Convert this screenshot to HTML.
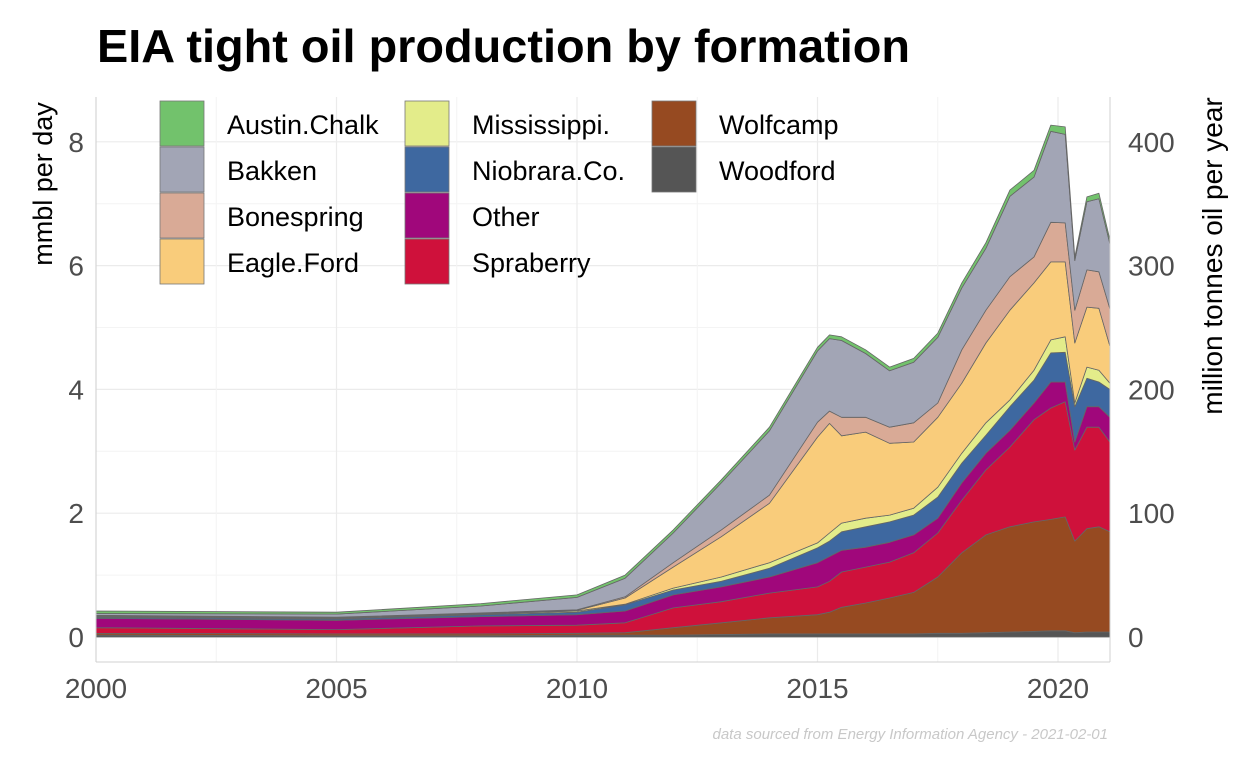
<!DOCTYPE html>
<html><head><meta charset="utf-8"><style>
html,body{margin:0;padding:0;background:#fff;}
svg{display:block;font-family:"Liberation Sans",Arial,sans-serif;}
</style></head><body>
<svg id="chart" width="1248" height="768" viewBox="0 0 1248 768">
<text x="97" y="62" font-size="46" font-weight="bold" fill="#000" textLength="813" lengthAdjust="spacingAndGlyphs">EIA tight oil production by formation</text>
<g id="grid"></g>
<g id="areas"></g>
<g id="axes"></g>
<g id="legend"></g>
<text transform="translate(52,184) rotate(-90)" text-anchor="middle" font-size="27" fill="#000">mmbl per day</text>
<text transform="translate(1222,256) rotate(-90)" text-anchor="middle" font-size="28" fill="#000">million tonnes oil per year</text>
<text x="1108" y="739" text-anchor="end" font-size="15" font-style="italic" fill="#c8c8c8">data sourced from Energy Information Agency - 2021-02-01</text>
</svg>
<script>
const times = [2000,2005,2008,2010,2011,2012,2013,2014,2015,2015.25,2015.5,2016,2016.5,2017,2017.5,2018,2018.5,2019,2019.5,2019.85,2020.15,2020.35,2020.6,2020.85,2021.08];
const seriesNames = ["Woodford","Wolfcamp","Spraberry","Other","Niobrara.Co.","Mississippi.","Eagle.Ford","Bonespring","Bakken","Austin.Chalk"];
const woodford   = [.03,.02,.02,.03,.03,.03,.04,.05,.05,.05,.05,.05,.05,.05,.06,.06,.07,.08,.09,.10,.10,.07,.08,.08,.08];
const wolfcamp   = [.03,.03,.03,.03,.04,.12,.19,.26,.31,.35,.43,.50,.58,.67,.91,1.30,1.58,1.70,1.77,1.80,1.84,1.48,1.67,1.70,1.62];
const spraberry  = [.09,.07,.13,.13,.16,.32,.34,.40,.45,.50,.57,.58,.58,.64,.71,.85,1.05,1.29,1.65,1.80,1.86,1.47,1.64,1.61,1.45];
const other      = [.15,.15,.15,.17,.19,.21,.24,.26,.39,.40,.35,.32,.32,.29,.24,.28,.27,.27,.27,.42,.32,.13,.33,.33,.40];
const niobrara   = [.02,.02,.03,.04,.10,.08,.09,.14,.24,.25,.30,.33,.33,.32,.34,.32,.29,.38,.37,.47,.48,.57,.46,.40,.45];
const mississippi= [.01,.01,.01,.02,.01,.03,.07,.09,.08,.13,.14,.14,.11,.11,.16,.16,.20,.11,.16,.21,.25,.06,.18,.19,.10];
const eagleFord  = [.01,.01,.01,.01,.10,.34,.65,.96,1.71,1.77,1.41,1.39,1.16,1.07,1.13,1.13,1.29,1.45,1.41,1.26,1.21,.97,.97,1.00,.60];
const bonespring = [.01,.01,.01,.01,.02,.07,.11,.13,.24,.20,.30,.24,.26,.31,.23,.54,.53,.54,.42,.64,.63,.53,.60,.59,.60];
const bakken     = [.03,.05,.11,.20,.30,.48,.76,1.04,1.15,1.17,1.24,1.03,.91,.98,1.06,1.00,1.00,1.30,1.29,1.47,1.43,.80,1.10,1.18,1.05];
const austin     = [.04,.03,.04,.04,.05,.05,.05,.06,.06,.06,.06,.06,.06,.06,.07,.08,.09,.10,.11,.10,.12,.06,.08,.09,.07];
const colors = ["#555555","#964a21","#cf113b","#a0077b","#3e68a0","#e3ec8a","#f9cc7b","#d9aa96","#a2a5b5","#72c26c"];
const xTicks = [2000,2005,2010,2015,2020];
const yTicks = [0,2,4,6,8];
const yTicksRight = [0,100,200,300,400];
const legendOrder = ["Austin.Chalk","Bakken","Bonespring","Eagle.Ford","Mississippi.","Niobrara.Co.","Other","Spraberry","Wolfcamp","Woodford"];

const NS="http://www.w3.org/2000/svg";
const X0=96,X1=1110,Y0=97,Y1=662;
const xs = y => 96 + (y-2000)*48.1;
const ys = v => 637 - v*61.9;
const ysR = t => ys(t/50);
function mk(tag,attrs,parent){const e=document.createElementNS(NS,tag);for(const k in attrs)e.setAttribute(k,attrs[k]);parent.appendChild(e);return e;}
const grid=document.getElementById('grid');
for(const v of [1,3,5,7]) mk('line',{x1:X0,x2:X1,y1:ys(v),y2:ys(v),stroke:'#f4f4f4','stroke-width':1},grid);
for(const v of yTicks) mk('line',{x1:X0,x2:X1,y1:ys(v),y2:ys(v),stroke:'#ebebeb','stroke-width':1.2},grid);
for(const t of [2002.5,2007.5,2012.5,2017.5]) mk('line',{x1:xs(t),x2:xs(t),y1:Y0,y2:Y1,stroke:'#f4f4f4','stroke-width':1},grid);
for(const t of xTicks) mk('line',{x1:xs(t),x2:xs(t),y1:Y0,y2:Y1,stroke:'#ebebeb','stroke-width':1.2},grid);

const series=[woodford,wolfcamp,spraberry,other,niobrara,mississippi,eagleFord,bonespring,bakken,austin];
const areas=document.getElementById('areas');
let base=times.map(()=>0);
series.forEach((s,i)=>{
  const top=base.map((b,j)=>b+s[j]);
  let d='M'+times.map((t,j)=>xs(t).toFixed(1)+','+ys(top[j]).toFixed(1)).join('L');
  for(let j=times.length-1;j>=0;j--) d+='L'+xs(times[j]).toFixed(1)+','+ys(base[j]).toFixed(1);
  d+='Z';
  const p=mk('path',{d:d,fill:colors[i],stroke:'#666','stroke-width':0.8,'stroke-linejoin':'round'},areas);
  
  
  base=top;
});

const axes=document.getElementById('axes');
mk('line',{x1:X0,x2:X0,y1:Y0,y2:Y1,stroke:'#d0d0d0','stroke-width':1},axes);
mk('line',{x1:X1,x2:X1,y1:Y0,y2:Y1,stroke:'#d0d0d0','stroke-width':1},axes);
mk('line',{x1:X0,x2:X1,y1:Y1,y2:Y1,stroke:'#d0d0d0','stroke-width':1},axes);
for(const t of xTicks){const e=mk('text',{x:xs(t),y:698,'text-anchor':'middle','font-size':28,fill:'#4d4d4d'},axes);e.textContent=t;

}
for(const v of yTicks){const e=mk('text',{x:84,y:ys(v)+10,'text-anchor':'end','font-size':28,fill:'#4d4d4d'},axes);e.textContent=v;

}
for(const v of yTicksRight){const e=mk('text',{x:1128,y:ysR(v)+10,'text-anchor':'start','font-size':28,fill:'#4d4d4d'},axes);e.textContent=v;

}

const legend=document.getElementById('legend');
legendOrder.forEach((name,k)=>{
  const col=Math.floor(k/4),row=k%4;
  const x=[160,405,652][col],y=101+row*46;
  const ci=seriesNames.indexOf(name);
  const g=mk('g',{},legend);
  
  
  mk('rect',{x:x,y:y,width:44,height:45,fill:colors[ci],stroke:'#777','stroke-width':0.8},g);
  const t=mk('text',{x:x+67,y:y+33,'font-size':27,fill:'#000'},g);t.textContent=name;
});
</script>
</body></html>
